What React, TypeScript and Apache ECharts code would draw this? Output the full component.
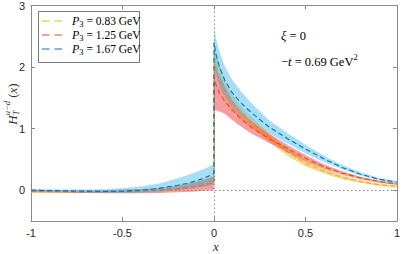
import React, { useEffect, useRef } from "react";
import * as echarts from "echarts";

// ---- data ----
const xNeg = [-1, -0.9, -0.8, -0.7, -0.6, -0.5, -0.4, -0.3, -0.2, -0.15, -0.1, -0.05, 0];
const xPos = [0, 0.01, 0.03, 0.06, 0.1, 0.15, 0.2, 0.3, 0.4, 0.5, 0.6, 0.7, 0.8, 0.9, 1.0];

// P3 = 0.83 GeV (yellow)
const yNegMid = [-0.03, -0.03, -0.03, -0.03, -0.025, -0.02, -0.01, 0.01, 0.04, 0.06, 0.09, 0.12, 0.17];
const yNegLo = [-0.045, -0.045, -0.045, -0.045, -0.045, -0.04, -0.035, -0.02, 0.0, 0.015, 0.04, 0.06, 0.1];
const yNegHi = [-0.015, -0.015, -0.015, -0.015, -0.01, 0.0, 0.015, 0.04, 0.08, 0.11, 0.14, 0.18, 0.24];
const yPosMid = [2.2, 2.05, 1.85, 1.63, 1.43, 1.26, 1.12, 0.86, 0.62, 0.44, 0.31, 0.21, 0.14, 0.09, 0.06];
const yPosLo = [2.0, 1.86, 1.68, 1.5, 1.32, 1.16, 1.03, 0.79, 0.56, 0.39, 0.27, 0.18, 0.12, 0.07, 0.045];
const yPosHi = [2.4, 2.24, 2.02, 1.77, 1.55, 1.36, 1.21, 0.93, 0.68, 0.49, 0.35, 0.24, 0.16, 0.11, 0.075];

// P3 = 1.25 GeV (red)
const rNegMid = [-0.01, -0.015, -0.02, -0.025, -0.025, -0.02, -0.015, -0.005, 0.02, 0.04, 0.06, 0.09, 0.12];
const rNegLo = [-0.03, -0.035, -0.04, -0.045, -0.05, -0.05, -0.05, -0.045, -0.035, -0.03, -0.02, -0.01, 0.0];
const rNegHi = [0.01, 0.005, 0.0, -0.005, 0.0, 0.01, 0.02, 0.035, 0.07, 0.1, 0.13, 0.18, 0.22];
const rPosMid = [1.85, 1.72, 1.58, 1.44, 1.3, 1.15, 1.03, 0.84, 0.68, 0.52, 0.38, 0.28, 0.2, 0.14, 0.1];
const rPosLo = [1.3, 1.3, 1.28, 1.24, 1.14, 1.03, 0.93, 0.77, 0.62, 0.47, 0.35, 0.25, 0.18, 0.12, 0.085];
const rPosHi = [2.1, 2.0, 1.86, 1.68, 1.46, 1.28, 1.13, 0.92, 0.74, 0.57, 0.42, 0.31, 0.22, 0.16, 0.115];

// P3 = 1.67 GeV (blue)
const bNegMid = [0.0, -0.005, -0.01, -0.015, -0.02, -0.015, 0.0, 0.03, 0.08, 0.11, 0.15, 0.2, 0.27];
const bNegLo = [-0.02, -0.025, -0.03, -0.04, -0.045, -0.045, -0.04, -0.02, 0.01, 0.03, 0.05, 0.07, 0.1];
const bNegHi = [0.02, 0.015, 0.01, 0.01, 0.015, 0.03, 0.06, 0.11, 0.19, 0.24, 0.29, 0.35, 0.42];
const bPosMid = [2.4, 2.22, 2.0, 1.78, 1.58, 1.41, 1.27, 1.03, 0.84, 0.67, 0.51, 0.37, 0.26, 0.18, 0.13];
const bPosLo = [2.1, 1.93, 1.72, 1.55, 1.38, 1.24, 1.12, 0.93, 0.76, 0.6, 0.46, 0.34, 0.24, 0.16, 0.11];
const bPosHi = [2.64, 2.48, 2.25, 2.01, 1.79, 1.6, 1.43, 1.14, 0.93, 0.74, 0.56, 0.41, 0.29, 0.2, 0.15];

const legendLabels = ["0.83", "1.25", "1.67"];
const xTicks = [-1, -0.5, 0, 0.5, 1];
const yTicks = [0, 1, 2, 3];

const LINE_COLORS = ["#EDB120", "#D95319", "#0072BD"];
const BAND_COLORS = ["#EDB120", "#F03C3C", "#4DBEEE"];

const SERIF = "Liberation Serif, Times New Roman, serif";
const SANS = "Liberation Sans, Arial, sans-serif";

let ctx: CanvasRenderingContext2D | null = null;
function measure(text: string, size: number, italic = false) {
  if (!ctx) ctx = document.createElement("canvas").getContext("2d");
  if (!ctx) return text.length * size * 0.5;
  ctx.font = `${italic ? "italic " : ""}${size}px "Liberation Serif", serif`;
  return ctx.measureText(text).width;
}

type Piece = { t: string; size: number; italic?: boolean; dy?: number; stackWithPrev?: boolean };

function composeText(pieces: Piece[], x0: number, y0: number, color: string, z = 101, centerX = false) {
  const items: any[] = [];
  let x = 0;
  let prevStart = 0;
  let prevW = 0;
  const layout: { x: number; p: Piece }[] = [];
  for (const p of pieces) {
    const w = measure(p.t, p.size, p.italic);
    if (p.stackWithPrev) {
      layout.push({ x: prevStart, p });
      x = prevStart + Math.max(prevW, w);
    } else {
      layout.push({ x, p });
      prevStart = x;
      prevW = w;
      x += w;
    }
  }
  const shift = centerX ? -x / 2 : 0;
  for (const l of layout) {
    items.push({
      type: "text",
      x: x0 + l.x + shift,
      y: y0 + (l.p.dy || 0),
      z,
      style: {
        text: l.p.t,
        fontFamily: SERIF,
        fontSize: l.p.size,
        fontStyle: l.p.italic ? "italic" : "normal",
        fill: color,
        verticalAlign: "middle",
      },
    });
  }
  return items;
}

function bandSeries(xs: number[], lo: number[], hi: number[], color: string, z: number) {
  return {
    type: "custom",
    z,
    silent: true,
    data: xs.map((x, i) => [x, lo[i], hi[i]]),
    encode: { x: 0, y: [1, 2] },
    renderItem: (params: any, api: any) => {
      if (params.dataIndex !== 0) return null;
      const top = xs.map((x, i) => api.coord([x, hi[i]]));
      const bot = xs.map((x, i) => api.coord([x, lo[i]])).reverse();
      return {
        type: "polygon",
        shape: { points: top.concat(bot) },
        style: { fill: color, opacity: 0.5 },
      };
    },
  };
}

function lineSeries(name: string, neg: number[], pos: number[], color: string, z: number) {
  const data = xNeg.map((x, i) => [x, neg[i]]).concat(xPos.map((x, i) => [x, pos[i]]));
  return {
    type: "line",
    name,
    z,
    data,
    symbol: "none",
    lineStyle: { color, width: 1.1, type: [5, 3] },
  };
}

export default function App() {
  const ref = useRef<HTMLDivElement>(null);
  useEffect(() => {
    if (!ref.current) return;
    const chart = echarts.init(ref.current, null, { renderer: "svg" });
    const axisLineStyle = { color: "#8a8a8a", width: 1 };
    const groups = [
      { neg: [yNegLo, yNegHi, yNegMid], pos: [yPosLo, yPosHi, yPosMid] },
      { neg: [rNegLo, rNegHi, rNegMid], pos: [rPosLo, rPosHi, rPosMid] },
      { neg: [bNegLo, bNegHi, bNegMid], pos: [bPosLo, bPosHi, bPosMid] },
    ];
    const series: any[] = [];
    groups.forEach((g, k) => {
      const z = 2 + k * 2;
      series.push(bandSeries(xNeg, g.neg[0], g.neg[1], BAND_COLORS[k], z));
      series.push(bandSeries(xPos, g.pos[0], g.pos[1], BAND_COLORS[k], z));
      series.push(lineSeries("P3 = " + legendLabels[k] + " GeV", g.neg[2], g.pos[2], LINE_COLORS[k], z + 1));
    });
    series.push({
      type: "line",
      data: [],
      z: 1,
      markLine: {
        silent: true,
        symbol: "none",
        label: { show: false },
        lineStyle: { color: "#8a8a8a", type: [1.5, 2.5], width: 1 },
        data: [{ xAxis: 0 }, { yAxis: 0 }],
      },
    });

    const legendY = [21, 35, 49];
    const graphic: any[] = [
      {
        type: "rect",
        shape: { x: 38.5, y: 11.5, width: 101, height: 51 },
        style: { fill: "#fff", stroke: "#555", lineWidth: 0.8 },
        z: 100,
      },
    ];
    legendLabels.forEach((lab, k) => {
      const y = legendY[k];
      graphic.push({
        type: "line",
        shape: { x1: 42, y1: y, x2: 62, y2: y },
        style: { stroke: LINE_COLORS[k], lineWidth: 1.2, lineDash: [7.5, 5] },
        z: 101,
      });
      graphic.push(
        ...composeText(
          [
            { t: "P", size: 12, italic: true },
            { t: "3", size: 8.5, dy: 3 },
            { t: " = " + lab + " GeV", size: 11.5 },
          ],
          72,
          y,
          "#000"
        )
      );
    });
    // annotations
    graphic.push(
      ...composeText(
        [
          { t: "ξ", size: 12.5, italic: true },
          { t: " = 0", size: 12.5 },
        ],
        281,
        36,
        "#000"
      )
    );
    graphic.push(
      ...composeText(
        [
          { t: "−", size: 12.5 },
          { t: "t", size: 12.5, italic: true },
          { t: " = 0.69 GeV", size: 12.5 },
          { t: "2", size: 8.5, dy: -5 },
        ],
        281,
        62,
        "#000"
      )
    );
    // x-axis name
    graphic.push({
      type: "text",
      x: 216,
      y: 246,
      style: {
        text: "x",
        fontFamily: SERIF,
        fontStyle: "italic",
        fontSize: 13,
        fill: "#333",
        align: "center",
        verticalAlign: "middle",
      },
    });
    // y-axis name (rotated)
    graphic.push({
      type: "group",
      x: 12,
      y: 104,
      rotation: Math.PI / 2,
      children: composeText(
        [
          { t: "H", size: 13, italic: true },
          { t: "T", size: 8.5, italic: true, dy: 4 },
          { t: "u−d", size: 8.5, italic: true, dy: -5, stackWithPrev: true },
          { t: " (", size: 13 },
          { t: "x", size: 13, italic: true },
          { t: ")", size: 13 },
        ],
        0,
        0,
        "#333",
        1,
        true
      ),
    });

    const baseX = {
      type: "value",
      min: -1,
      max: 1,
      splitLine: { show: false },
      axisLine: { show: true, onZero: false, lineStyle: axisLineStyle },
    };
    const baseY = {
      type: "value",
      min: -0.5,
      max: 3,
      splitLine: { show: false },
      axisLine: { show: true, onZero: false, lineStyle: axisLineStyle },
    };

    chart.setOption({
      animation: false,
      grid: { left: 31, right: 2, top: 4, bottom: 33 },
      xAxis: [
        {
          ...baseX,
          position: "bottom",
          axisTick: { show: true, inside: true, length: 4, lineStyle: axisLineStyle, customValues: xTicks },
          axisLabel: {
            show: true,
            customValues: xTicks,
            margin: 6,
            fontSize: 11,
            fontFamily: SANS,
            color: "#262626",
            formatter: (v: number) => String(v),
          },
        },
        {
          ...baseX,
          position: "top",
          axisTick: { show: true, inside: true, length: 4, lineStyle: axisLineStyle, customValues: xTicks },
          axisLabel: { show: false },
        },
      ],
      yAxis: [
        {
          ...baseY,
          position: "left",
          axisTick: { show: true, inside: true, length: 4, lineStyle: axisLineStyle, customValues: yTicks },
          axisLabel: {
            show: true,
            customValues: yTicks,
            margin: 6,
            fontSize: 11,
            fontFamily: SANS,
            color: "#262626",
            formatter: (v: number) => String(v),
          },
        },
        {
          ...baseY,
          position: "right",
          axisTick: { show: true, inside: true, length: 4, lineStyle: axisLineStyle, customValues: yTicks },
          axisLabel: { show: false },
        },
      ],
      series,
      graphic,
    });
    return () => chart.dispose();
  }, []);
  return <div ref={ref} style={{ width: 403, height: 254, position: "absolute", left: 0, top: 0 }} />;
}
